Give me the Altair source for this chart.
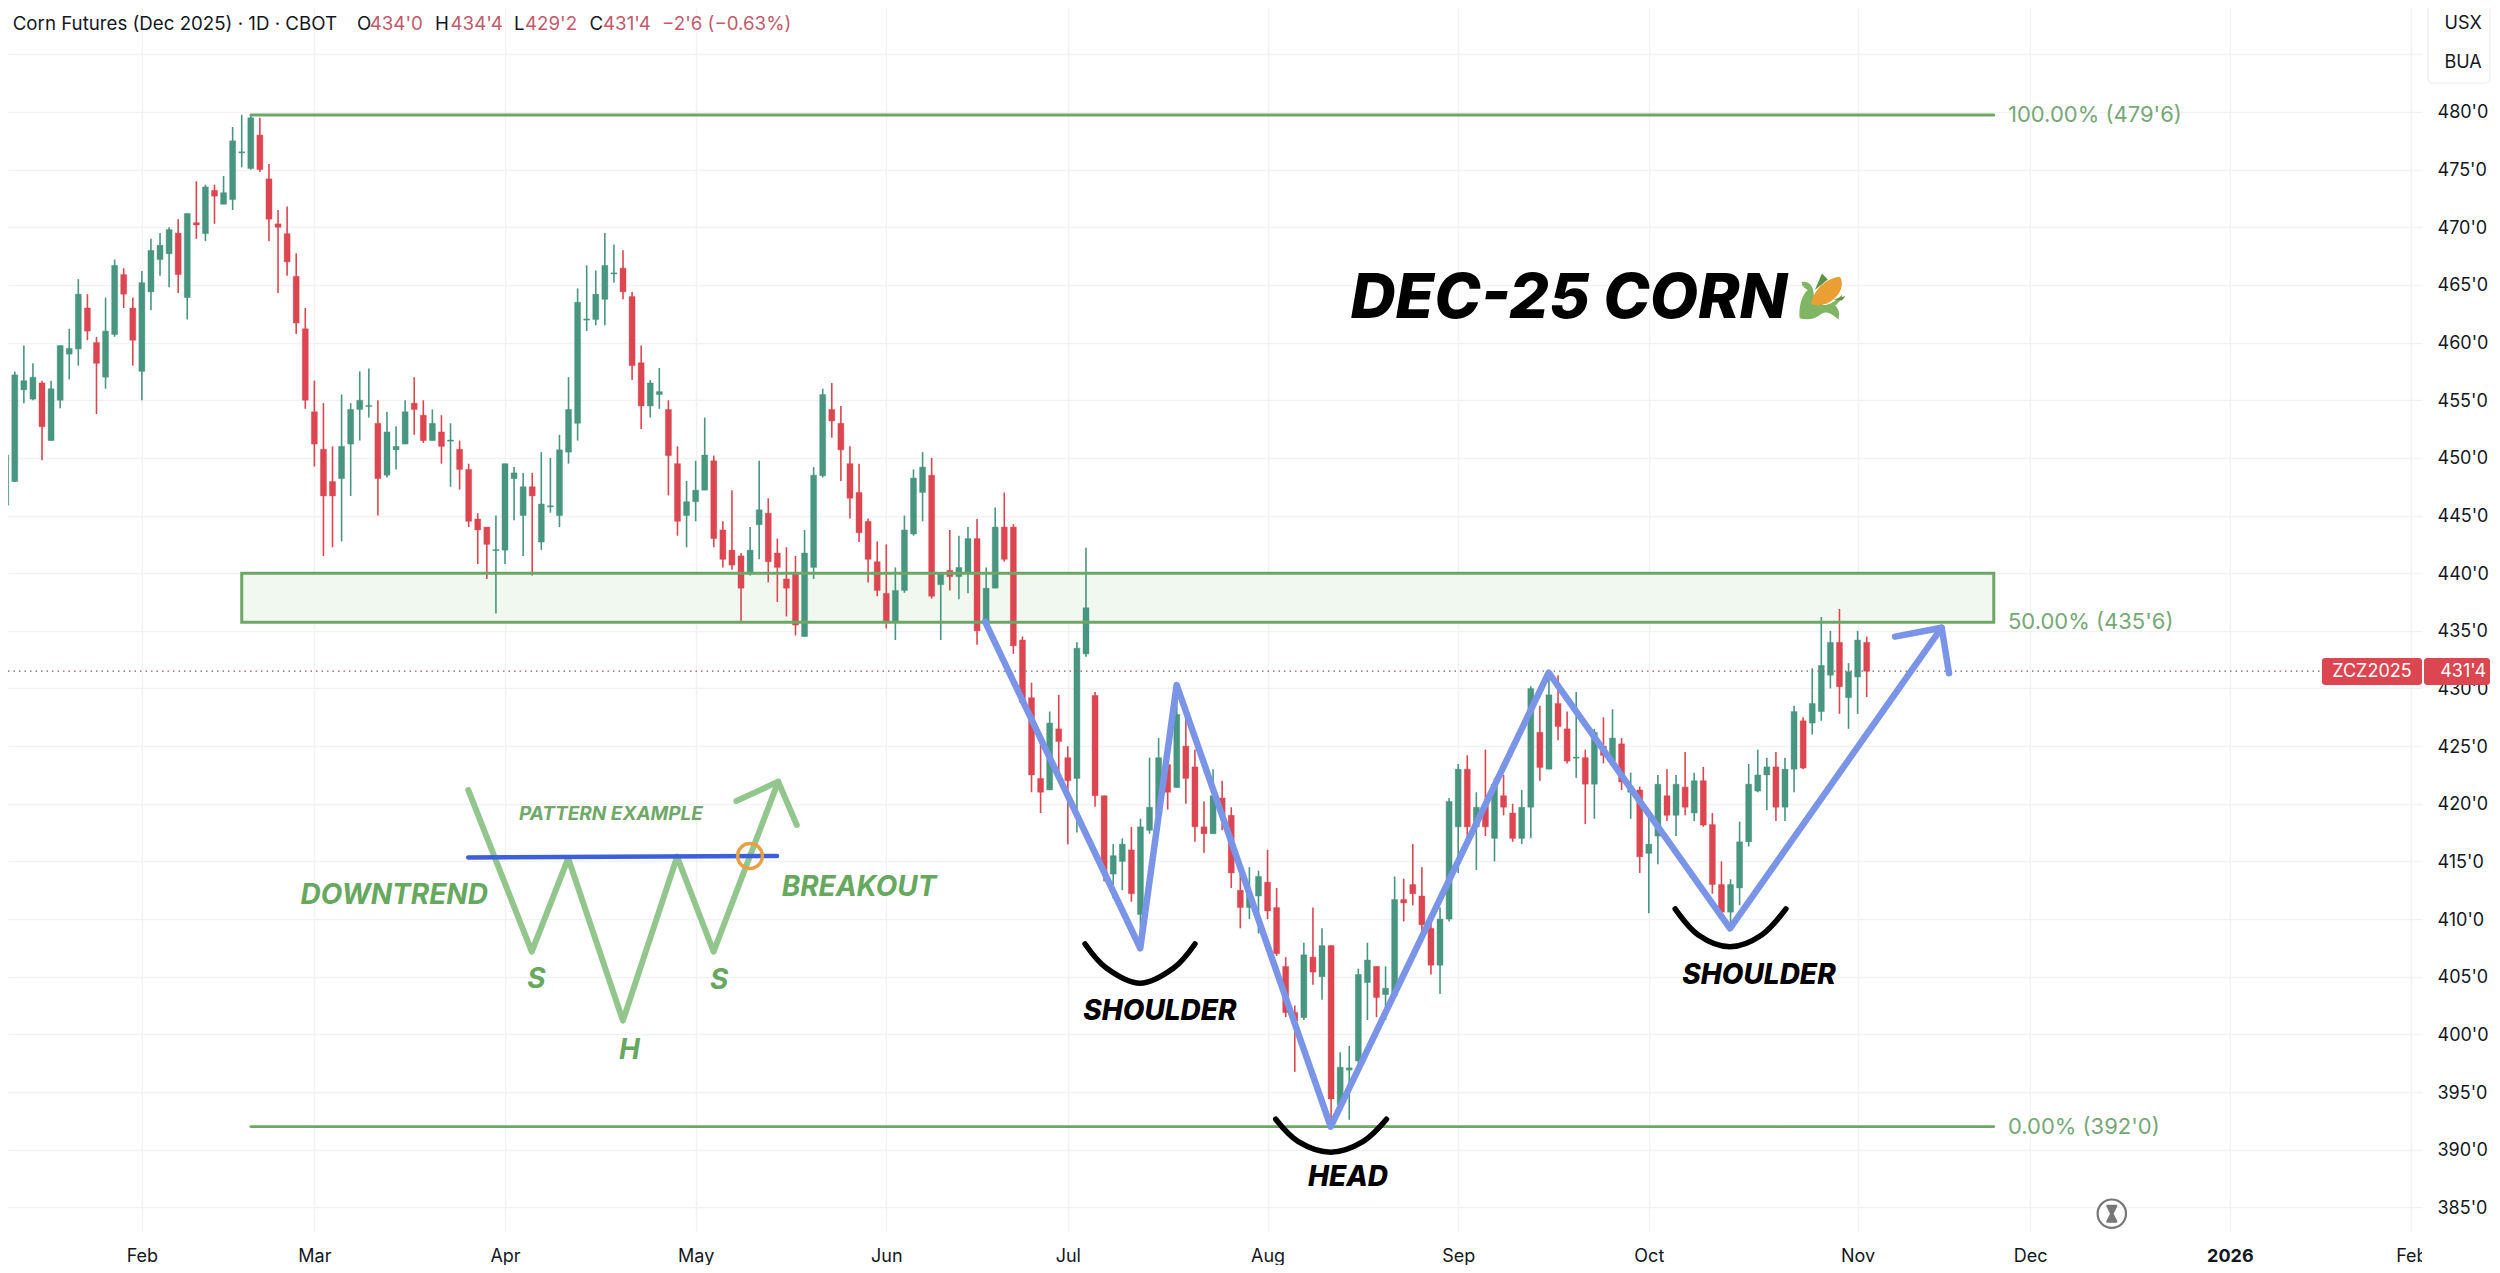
import altair as alt
import pandas as pd

open_ = [445.9,447.95,455.9,455.1,456.5,451.5,455,459,459.45,463,
 460,457,460.7,465.9,463,457.5,464.4,467.2,467.7,469.5,
 463.9,470.4,469.45,473.2,472,472.4,476.45,475.1,478,474.2,
 470.3,469.45,465.75,461.2,454,450.75,447.95,448.2,451.2,454.2,
 454.45,453,448.5,450.7,451.2,454.75,453.7,451.5,452.25,451.45,
 450.75,449,444.7,444,441.95,442,448.2,445,447.5,442.7,
 445.75,445,450.5,453,461.95,462,463.75,465.95,466.45,464,
 458.25,454.5,455.5,454.2,449.5,445,446.2,447.2,449.75,443.75,
 442,441.5,440,444.2,445.2,441.75,439.5,440,434.5,440.5,
 448.45,454.2,453,449.5,447,444.5,441,438.25,435.75,438.5,
 443.4,447,448.5,439,440.25,439.7,440,443,435.8,438.7,
 444,444,434.2,429.2,422.2,421.2,426.5,424,422.2,433,
 429.4,420.7,413.9,415,416,410.4,417.7,419,423.4,421.4,
 425,423.2,418,417.4,420.5,419,412.5,411,412,413.2,
 411,405.9,401.9,401.45,406.7,405,407.7,393.9,396.9,397.7,
 404.5,405.9,403.45,403.4,411.7,413,412,409.2,406,410,
 418,423,418,420,417,420.7,419.2,417,419.7,426.2,
 423,428.7,426.5,423.95,424,421.7,425,423.7,425.2,421,
 421.2,415.7,417.2,420.7,419,421.45,419.2,422,418.2,413,
 410.6,412.7,416.7,421.1,422.5,423.2,419.7,423,427.2,427,
 428,431.15,434,429.2,431,434]
high = [452.75,457.5,459.75,458.2,456.7,456.7,459.75,461.2,465.5,464.2,
 460.5,463.9,467.2,466.45,463.9,466.2,469,469.5,470,470.7,
 471.2,474,473.7,473.7,474.45,478.7,479.75,479.75,479.5,475.5,
 471.5,471.8,467.75,463,456.7,454.75,451,455.5,454.75,457.5,
 457.75,455,454,452.75,455,457,455,454.2,453.7,453,
 451.5,449.5,445.2,444,445,449.5,449.2,448.7,448.7,450.5,
 450,452,457,464.7,466.7,466.25,469.5,468.5,468,464.4,
 459.75,456.75,457.8,455,451,448,449.75,453.5,450.2,444.5,
 447.2,441.75,444,449.75,446.5,443,442.25,441.5,443.75,449.2,
 456,456.5,454.5,451,449.5,444.75,442.75,442.5,440.5,445,
 449,450.5,450,440,443.75,443.25,444,444.7,440.5,445.7,
 447,444.25,434.5,430.5,426.1,428,429.45,425,434,442.2,
 429.7,420.7,416.5,417,418,418.7,424,425.7,425.7,429,
 427.5,424.7,420.2,423,422,419.7,415,414.5,414.2,416,
 412.7,406.7,402.5,407.95,411,409.2,407.7,398.45,399,405.7,
 407.95,405.9,405.9,413.7,413.5,416.5,414.5,410,411,420.5,
 423.45,424.2,421,424.7,422.2,422.5,420,421.2,430.2,428.5,
 431,431.15,428,429.7,424.7,426.5,427.5,428.2,425.7,422.7,
 421.5,419.2,422.5,423,422.5,424.5,422.7,423.2,419.2,415,
 413.45,418.45,423.45,424.7,424,424.5,424,428.5,427.5,431.75,
 436.2,435,436.9,432.2,435,434.5]
low = [445.75,447.9,454.75,455,449.8,451.5,454.3,456.8,458,460.2,
 453.8,456,460.5,463,458,455,462.8,465.8,464.8,464.3,
 462,469,468.8,470.3,472,471.5,475.2,475,474.8,468.8,
 464.3,465.8,460.75,454.25,449.25,441.5,442.25,442.75,446.7,451.5,
 453.5,445,448.3,449,451.2,452,451.3,451.5,449.5,447.5,
 447.25,444,440.8,439.5,436.5,440.8,444.6,441.5,439.8,442,
 445.25,444,449.5,451.5,461,461.5,461.5,465.2,463.75,456.75,
 452.5,453.5,454.25,446.75,443.25,442.25,444.5,447.2,442.25,440.5,
 440.3,435.8,439.8,441.2,439.2,437.5,436.25,434.6,434.5,439.5,
 448.3,451.75,448,444.75,442.7,439.2,438,435.2,434.2,438.3,
 443.25,444.5,437.8,434.2,438.5,437.75,438.25,433.8,435.8,438.7,
 441,433,428.7,421,419.2,421.2,422.3,416.5,417.5,432.75,
 419.75,413.25,411.8,412.5,411.5,407.5,417.4,419,419.5,421.4,
 420,416.7,415.75,417.4,417.7,412.7,409.2,410,408.75,410,
 406.8,401.5,396.75,401.25,404.3,403,392,393.7,392.6,397.5,
 401.25,401.5,401.25,403.2,409.8,411.2,408.6,405.2,403.5,409.8,
 414,416.3,414.25,417.2,415,419,416.7,416.5,417,422,
 423,425.5,423.5,422.25,418.25,418.7,423.5,423.7,421.2,418.7,
 414,410.5,414.75,418.5,417.2,419,418.5,418,412.2,410.5,
 409.2,411.2,416.3,421,419.45,418.5,418.5,421,423,426,
 427.2,430,427.8,426.5,427.8,429.25]
close = [450.25,457.2,456.7,457,452.7,456,459.75,459.5,464.2,461,
 458.2,461,466.7,464.2,460.2,465.2,468,468.45,469.8,465.9,
 471.2,470.2,473.5,472.7,473,477.5,476.55,479.5,475,470.7,
 470,467,461.7,455,451.2,446.7,446.7,451,454.2,455,
 454.55,448.2,452.25,451,454,454.2,451.5,453,451,451.55,
 449,444.5,443.75,442.5,442.05,449.5,448.7,447.5,446.7,446,
 445.85,450.7,454.2,463.5,462.05,464.2,466.7,466.05,464.4,458,
 454.5,456.5,455.75,450.2,444.5,446.2,447.2,450.25,443,441.2,
 440.7,438.7,442,445.5,441,440.5,438.7,435.5,441.75,448.5,
 455.5,453.2,450.7,446.5,443.5,441.2,438.5,435.75,438.5,443.75,
 448.25,449.2,438,440,439.7,440.5,443,435,438.7,444,
 441.2,433.7,428.8,422.5,421,427,425.4,422,433.5,437,
 420.7,414,415.5,416.5,412.2,418,419.7,424,421,427.75,
 422.2,418,417.4,420.7,419,414,411,412.2,413.7,410.7,
 407,401.9,401.15,406.9,405.4,407.7,394.4,397.15,397.1,405.2,
 406.45,403.2,404,411.7,411.4,412.2,409.5,406,410,420.2,
 423,418,419.7,418,421.7,419.7,417,419.7,430,423.15,
 429.45,426.7,423.7,424.05,421.7,426.2,424.2,425.7,421.9,421.5,
 415.4,416.5,421.7,419,421.7,419.7,422,418.15,413,410.6,
 413,416.7,421.7,422.5,423.2,419.7,423,428,423.1,428.7,
 432,434,430.15,431.45,434.2,431.5]

month_bars = [16, 35, 56, 77, 98, 118, 140, 161, 182, 205, 224, 246, 266]
month_labels = ["Feb", "Mar", "Apr", "May", "Jun", "Jul", "Aug", "Sep", "Oct", "Nov", "Dec", "2026", "Feb"]
price_ticks = list(range(385, 490, 5))

GREEN, RED = "#489580", "#dc4650"
FIB, PALE, BLUE, INK = "#6ca765", "#92c68d", "#7a94e8", "#131722"
FONT = "Inter"

xs = alt.Scale(domain=[1.253, 267.17], nice=False, zero=False, padding=0)
ys = alt.Scale(domain=[382.86, 489.02], nice=False, zero=False, padding=0)
bars_js = "[" + ",".join(map(str, month_bars)) + "]"
labs_js = "[" + ",".join(f"'{m}'" for m in month_labels) + "]"
xaxis = alt.Axis(
    values=month_bars, title=None, domain=False, ticks=False, grid=True,
    gridColor="#f1f2f4", gridWidth=1.5, labelFont=FONT, labelFontSize=18,
    labelColor=INK, labelPadding=15, labelFlush=False, labelOverlap=False,
    labelExpr=f"{labs_js}[indexof({bars_js}, datum.value)]",
    labelFontWeight=alt.condition("datum.value == 246", alt.value(700), alt.value(400)),
)
yaxis = alt.Axis(
    values=price_ticks, orient="right", title=None, domain=False, ticks=False, grid=True,
    gridColor="#f1f2f4", gridWidth=1.5, labelFont=FONT, labelFontSize=18,
    labelColor=INK, labelPadding=15, labelOffset=1, labelFlush=False, labelOverlap=False,
    labelExpr="datum.value == 485 ? '' : datum.value + \"'0\"",
)
X = alt.X("n:Q", scale=xs, axis=xaxis)
Y = alt.Y("p:Q", scale=ys, axis=yaxis)

candles = pd.DataFrame({"n": range(1, len(open_) + 1), "o": open_, "h": high, "l": low, "c": close})
candles["top"] = candles[["o", "c"]].max(axis=1)
candles["bot"] = candles[["o", "c"]].min(axis=1)
candles["dir"] = ["up" if c >= o else "down" for o, c in zip(open_, close)]
CC = alt.Color("dir:N", scale=alt.Scale(domain=["up", "down"], range=[GREEN, RED]), legend=None)

wicks = alt.Chart(candles).mark_rule(strokeWidth=1.6, clip=True).encode(
    x=X, y=alt.Y("h:Q", scale=ys, axis=yaxis), y2="l:Q", color=CC)
bodies = alt.Chart(candles).mark_bar(size=6, strokeWidth=0.4, clip=True).encode(
    x=X, y=alt.Y("top:Q", scale=ys, axis=yaxis), y2="bot:Q", color=CC, stroke=CC)


def poly(ns, ps, color, width, interp="linear", opacity=1):
    df = pd.DataFrame({"n": ns, "p": ps, "i": range(len(ns))})
    return alt.Chart(df).mark_line(
        color=color, strokeWidth=width, strokeCap="round", strokeJoin="round",
        interpolate=interp, opacity=opacity
    ).encode(x=X, y=Y, order="i:Q")


def box(n1, n2, p1, p2, **kw):
    df = pd.DataFrame({"n": [n1], "n2": [n2], "p": [p1], "p2": [p2]})
    return alt.Chart(df).mark_rect(**kw).encode(x=X, x2="n2:Q", y=Y, y2="p2:Q")


def label(txt, n, p, size, color=INK, weight=400, style="normal", align="center"):
    df = pd.DataFrame({"n": [n], "p": [p], "t": [txt]})
    return alt.Chart(df).mark_text(
        font=FONT, fontSize=size, color=color, fontWeight=weight, fontStyle=style,
        align=align, baseline="middle"
    ).encode(x=X, y=Y, text="t:N")


def glyph(path, n, p, size, color, filled=True, **kw):
    df = pd.DataFrame({"n": [n], "p": [p]})
    return alt.Chart(df).mark_point(shape=path, size=size, filled=filled, color=color, opacity=1, **kw).encode(x=X, y=Y)


HS = 18.7
layers = [
    box(27, 220, 440, 435.75, color="#f0f8f0"),
    wicks, bodies,
    poly([28, 220], [479.75, 479.75], FIB, 3),
    poly([28, 220], [392, 392], FIB, 2.8),
    box(27, 220, 440, 435.75, fillOpacity=0, stroke=FIB, strokeWidth=3),
    # dotted last-price line
    alt.Chart(pd.DataFrame({"n": [1.253], "n2": [256.2], "p": [431.5]})).mark_rule(
        color="#8d5a60", strokeWidth=1.2, strokeDash=[1.5, 4]
    ).encode(x=X, x2="n2:Q", y=Y),
    # head and shoulders
    poly([108.88, 125.98, 129.99, 146.96, 170.97, 190.94, 214.26],
         [435.8, 407.47, 430.3, 392, 431.37, 409.2, 435.27], BLUE, 6.5),
    poly([209.12, 214.26, 215.07], [434.5, 435.27, 431.32], BLUE, 6.5),
    poly([119.9, 122.28, 125.95, 129.62, 132], [407.84, 405.73, 404.43, 405.73, 407.84], "#000", 5.5, "cardinal"),
    poly([140.9, 143.39, 146.96, 150.5, 153.1], [392.64, 390.7, 389.78, 390.7, 392.64], "#000", 5.5, "cardinal"),
    poly([184.9, 187.45, 190.94, 194.43, 197.1], [410.88, 408.62, 407.6, 408.62, 410.88], "#000", 5.5, "cardinal"),
    label("SHOULDER", 128.15, 401.94, 28, "#000", 800, "italic"),
    label("HEAD", 148.87, 387.55, 28, "#000", 800, "italic"),
    label("SHOULDER", 194.14, 405.09, 28, "#000", 800, "italic"),
    # pattern example
    poly([51.95, 58.95, 62.96, 68.99, 74.96, 78.98, 86.1],
         [421.2, 407.17, 415.27, 401.19, 415.41, 407.17, 421.92], PALE, 6),
    poly([81.49, 86.1, 88.14], [420.24, 421.92, 418.16], PALE, 6),
    poly([51.95, 85.96], [415.35, 415.47], "#3d5fd9", 4.5),
    glyph("circle", 82.99, 415.47, 616, "#e8a045", filled=False, strokeWidth=3.5),
    label("PATTERN EXAMPLE", 67.68, 419.09, 19, "#6fa868", 700, "italic"),
    label("DOWNTREND", 43.8, 412.03, 28, "#65a85e", 700, "italic"),
    label("BREAKOUT", 95, 412.7, 28, "#65a85e", 700, "italic"),
    label("S", 59.46, 404.72, 28, "#65a85e", 700, "italic"),
    label("H", 69.7, 398.56, 28, "#65a85e", 700, "italic"),
    label("S", 79.6, 404.63, 28, "#65a85e", 700, "italic"),
    # fib labels
    label("100.00% (479'6)", 221.56, 479.75, 22, "#76a876", align="left"),
    label("50.00% (435'6)", 221.56, 435.75, 22, "#76a876", align="left"),
    label("0.00% (392'0)", 221.56, 392, 22, "#76a876", align="left"),
    # title and corn
    label("DEC-25 CORN", 173.2, 463.78, 62.5, "#000", 800, "italic"),
    glyph("M-0.95 0.9 C-1 0.4 -0.85 -0.1 -0.6 -0.3 C-0.8 -0.4 -0.9 -0.55 -0.85 -0.65 C-0.5 -0.7 -0.3 -0.4 -0.35 0.1 "
          "C-0.1 0.45 0.3 0.45 0.85 -0.1 C0.9 0 0.7 0.3 0.55 0.35 C0.75 0.5 0.75 0.8 0.7 0.95 C0.4 0.7 0.2 0.6 0 0.7 "
          "C-0.3 0.95 -0.6 1 -0.95 0.9 Z", 201.07, 463.95, 2209, "#7fb563", strokeWidth=0),
    glyph("M-0.3 -0.3 L0 -1 L0.25 -0.75 Z M0.5 0.1 L1 -0.05 L0.85 0.15 Z", 201.07, 463.95, 2209, "#5e9245", strokeWidth=0),
    glyph("M-0.45 0.3 C-0.4 -0.2 0.1 -0.8 0.75 -0.85 C0.9 -0.75 0.9 -0.3 0.6 0 C0.3 0.3 -0.1 0.45 -0.45 0.3 Z",
          201.07, 463.95, 2209, "#ea9f34", strokeWidth=0),
    # header
    label("Corn Futures (Dec 2025) · 1D · CBOT", 1.77, 487.63, HS, INK, align="left"),
    label("O", 39.7, 487.63, HS, INK, align="left"),
    label("434'0", 41.1, 487.63, HS, "#c4596c", align="left"),
    label("H", 48.3, 487.63, HS, INK, align="left"),
    label("434'4", 50, 487.63, HS, "#c4596c", align="left"),
    label("L", 57, 487.63, HS, INK, align="left"),
    label("429'2", 58.2, 487.63, HS, "#c4596c", align="left"),
    label("C", 65.3, 487.63, HS, INK, align="left"),
    label("431'4", 66.8, 487.63, HS, "#c4596c", align="left"),
    label("−2'6 (−0.63%)", 73.3, 487.63, HS, "#c4596c", align="left"),
    # currency/unit box
    box(267.83, 274.66, 489.37, 482.5, fill="#ffffff", stroke="#f0f2f6", strokeWidth=1.5, cornerRadius=5),
    label("USX", 271.7, 487.63, 18, INK),
    label("BUA", 271.7, 484.25, 18, INK),
    # price tags
    box(256.15, 267.17, 432.65, 430.3, color=RED, cornerRadius=3),
    box(267.39, 274.66, 432.65, 430.3, color=RED, cornerRadius=3),
    label("ZCZ2025", 261.66, 431.47, 18, "#ffffff"),
    label("431'4", 271.7, 431.47, 18, "#ffffff"),
    # timer icon
    glyph("circle", 233, 384.45, 804, "#777777", filled=False, strokeWidth=2.2),
    glyph("M-0.6 -1 L0.6 -1 L0.6 -0.8 L0.2 0 L0.6 0.8 L0.6 1 L-0.6 1 L-0.6 0.8 L-0.2 0 L-0.6 -0.8 Z",
          233, 384.45, 324, "#777777", strokeWidth=0),
    # the time axis stops at the plot's edge
    box(267.17, 269, 382.5, 379.4, color="#ffffff"),
]

chart = alt.layer(*layers).properties(
    width=2414, height=1224, background="white",
    padding={"left": 0, "top": 0, "right": 70, "bottom": 33},
    autosize=alt.AutoSizeParams(type="none"),
).configure_view(stroke=None)

chart.save("out.html", embed_options={"renderer": "svg", "actions": False})
